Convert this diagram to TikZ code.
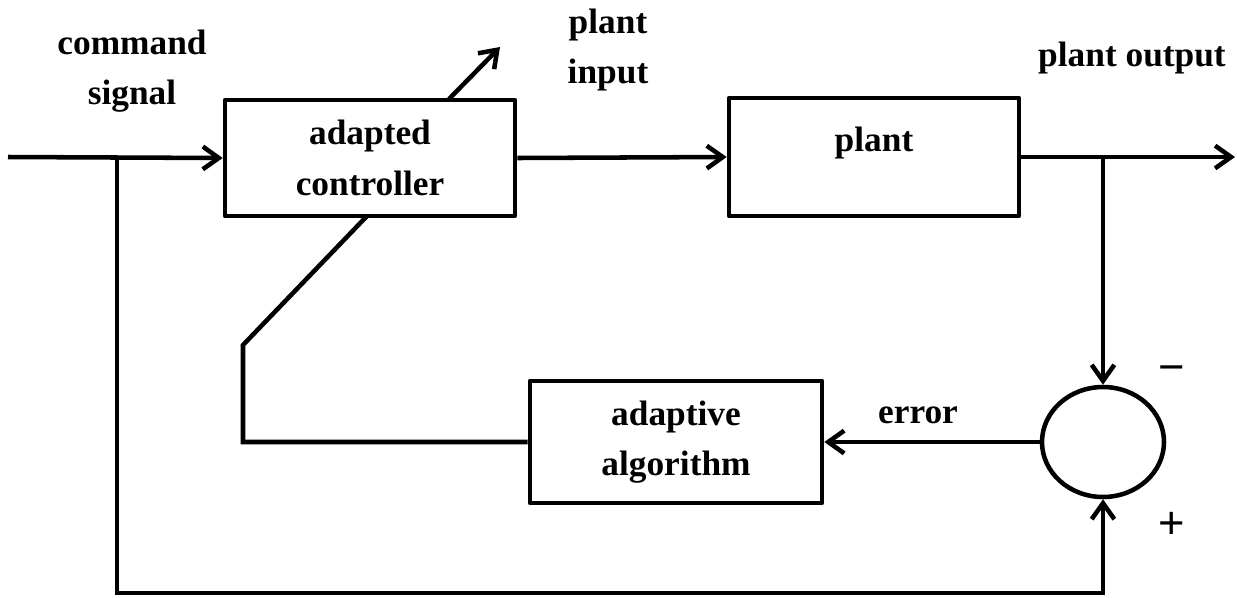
\documentclass[tikz,border=0pt]{standalone}
\usepackage{fontspec}
\setmainfont{Liberation Serif}
\newfontfamily\signfont{Liberation Sans}
\usetikzlibrary{arrows.meta,shapes.geometric,calc}
\begin{document}
\begin{tikzpicture}[x=0.75pt,y=-0.75pt,
  line width=3.4pt,
  tip/.style={-{Straight Barb[length=12pt,width=17pt]}},
  txt/.style={font=\fontsize{26.5}{38}\selectfont\bfseries, align=center, inner sep=0pt},
  blk/.style={draw, fill=white, rectangle, txt, line join=round},
  sign/.style={font=\signfont\fontsize{34}{34}\selectfont, inner sep=0pt}]
\useasboundingbox (0,0) rectangle (1237,597);

% blocks
\node[blk, minimum width=217.5pt, minimum height=87pt] (ctrl) at (370,158) {adapted\\controller};
\node[blk, minimum width=217.5pt, minimum height=88.5pt] (plant) at (874,157) {};
\node[txt] (plantlbl) at (874,143) {plant};
\node[blk, minimum width=219pt, minimum height=91.5pt] (alg) at (676,442) {adaptive\\algorithm};
\node[draw, ellipse, minimum width=91.5pt, minimum height=82.5pt, inner sep=0pt] (sum) at (1103,442) {};

% signal points
\coordinate (in) at (8,157);
\coordinate (split) at (117,157);
\coordinate (out) at (1235,157);
\coordinate (tap) at (1103,157);
\coordinate (fbcorner) at (1103,593);
\coordinate (foot) at (243,442);
\coordinate (bend) at (243,345);
\coordinate (adjin) at (367,216);
\coordinate (adjout) at (449,99);
\coordinate (adjtip) at (500,47);

% connectors
\draw[tip] (in) -- (ctrl.west);
\draw[tip] (ctrl.east) -- (plant.west);
\draw[tip] (plant.east) -- (out);
\draw[tip] (tap) -- (sum.north);
\draw[tip] (split) |- (fbcorner) -- (sum.south);
\draw[tip] (sum.west) -- (alg.east);
\draw (alg.west) -- (foot) -- (bend) -- (adjin);
\draw[tip] (adjout) -- (adjtip);

% labels
\node[txt] (cmd) at (132,71) {command\\signal};
\node[txt] (pin) at (608,50) {plant\\input};
\node[txt] (pout) at (1132,58) {plant output};
\node[txt] (err) at (918,415) {error};
\node[sign] (minus) at (1172,374) {−};
\node[sign] (plus) at (1172,525) {+};
\end{tikzpicture}
\end{document}
